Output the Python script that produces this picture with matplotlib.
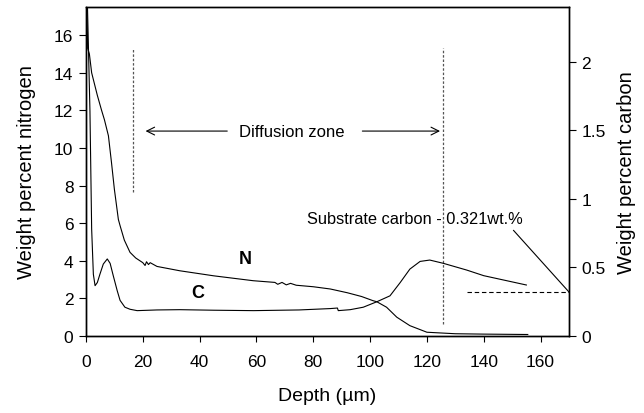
import matplotlib
matplotlib.use("Agg")
import matplotlib.pyplot as plt

plt.rcParams["font.family"] = ["Liberation Sans", "DejaVu Sans"]

# nitrogen profile (wt.%, left axis)
n_depth = [0.3, 0.6, 1.2, 2.0, 3.0, 4.0, 5.5, 6.5, 7.9, 9.0, 10.0, 11.4, 12.0, 13.5,
           15.5, 17.5, 20.0, 20.8, 21.3, 22.0, 22.6, 25.0, 33.0, 45.0, 58.9, 66.5,
           67.5, 69.0, 70.5, 72.0, 74.0, 80.0, 86.0, 92.0, 97.0, 101.0, 102.4,
           105.8, 109.4, 114.0, 120.0, 130.0, 140.0, 155.5]
n_wt = [17.4, 15.3, 15.0, 14.0, 13.4, 12.8, 12.0, 11.5, 10.65, 9.2, 7.8, 6.2, 5.87, 5.1,
        4.45, 4.15, 3.9, 3.75, 3.95, 3.8, 3.9, 3.7, 3.47, 3.2, 2.94, 2.85,
        2.75, 2.85, 2.72, 2.8, 2.7, 2.62, 2.5, 2.3, 2.1, 1.88, 1.82,
        1.53, 1.0, 0.55, 0.2, 0.12, 0.1, 0.08]

# carbon profile (wt.%, right axis)
c_depth = [0.3, 1.4, 2.0, 2.6, 3.2, 4.0, 4.9, 6.1, 7.5, 8.5, 9.6, 11.0, 12.0, 13.7,
           15.5, 18.0, 25.0, 33.0, 45.0, 59.0, 75.0, 86.0, 88.5, 88.8, 93.0, 97.6,
           102.4, 107.0, 110.6, 114.0, 117.6, 121.0, 125.8, 134.0, 140.0, 155.0]
c_wt = [2.6, 1.64, 0.78, 0.45, 0.367, 0.39, 0.45, 0.525, 0.562, 0.53, 0.44, 0.33, 0.26, 0.21,
        0.195, 0.185, 0.19, 0.192, 0.188, 0.185, 0.19, 0.20, 0.204, 0.185, 0.192, 0.21,
        0.25, 0.293, 0.39, 0.488, 0.544, 0.554, 0.53, 0.481, 0.44, 0.372]

x_ticks = [0, 20, 40, 60, 80, 100, 120, 140, 160]
n_ticks = [0, 2, 4, 6, 8, 10, 12, 14, 16]
c_ticks = [0, 0.5, 1, 1.5, 2]
c_tick_labels = ["0", "0.5", "1", "1.5", "2"]

zone_start, zone_end = 16.4, 125.8
substrate_c = 0.321

fig = plt.figure(figsize=(6.44, 4.14), dpi=100)
ax = fig.add_axes([0.1335, 0.186, 0.75, 0.7947])
ax2 = ax.twinx()

ax.plot(n_depth, n_wt, color="black", linewidth=0.8)
ax2.plot(c_depth, c_wt, color="black", linewidth=0.8)

ax.set_xlim(0, 170)
ax.set_ylim(0, 17.5)
ax2.set_ylim(0, 2.4)
ax.set_xticks(x_ticks)
ax.set_yticks(n_ticks)
ax2.set_yticks(c_ticks)
ax2.set_yticklabels(c_tick_labels)

for a in (ax, ax2):
    a.tick_params(direction="out", length=5, width=0.8, labelsize=12.5, pad=4)
    for s in a.spines.values():
        s.set_linewidth(1.0)
ax.tick_params(axis="x", length=4, pad=9)

ax.set_xlabel("Depth (\u00b5m)", fontsize=14, labelpad=13)
ax.set_ylabel("Weight percent nitrogen", fontsize=14.5, labelpad=13)
ax2.set_ylabel("Weight percent carbon", fontsize=14.5, labelpad=8)

# diffusion zone markers
ax.plot([zone_start, zone_start], [7.65, 15.3], color="#555555", linestyle=(0, (2, 1.5)), linewidth=0.9)
ax.plot([zone_end, zone_end], [0.64, 15.3], color="#555555", linestyle=(0, (2, 1.5)), linewidth=0.9)
ax.annotate("", xy=(zone_start + 3.6, 10.9), xytext=(50.7, 10.9),
            arrowprops=dict(arrowstyle="->", color="black", linewidth=0.8, mutation_scale=14))
ax.annotate("", xy=(zone_end - 0.2, 10.9), xytext=(96.3, 10.9),
            arrowprops=dict(arrowstyle="->", color="black", linewidth=0.8, mutation_scale=14))
ax.text(72.3, 10.9, "Diffusion zone", fontsize=12, ha="center", va="center")

# substrate carbon
ax2.plot([134, 170], [substrate_c, substrate_c], color="black", linestyle=(0, (4, 2.5)),
         linewidth=0.8, clip_on=False)
ax2.plot([150.5, 170], [0.77, substrate_c], color="black", linewidth=0.8, clip_on=False)
ax2.text(77.7, 0.86, "Substrate carbon - 0.321wt.%", fontsize=11.8, ha="left", va="center")

ax.text(56, 4.13, "N", fontsize=13, fontweight="bold", ha="center", va="center")
ax.text(39.2, 2.29, "C", fontsize=13, fontweight="bold", ha="center", va="center")

fig.savefig("out.png", dpi=100)
